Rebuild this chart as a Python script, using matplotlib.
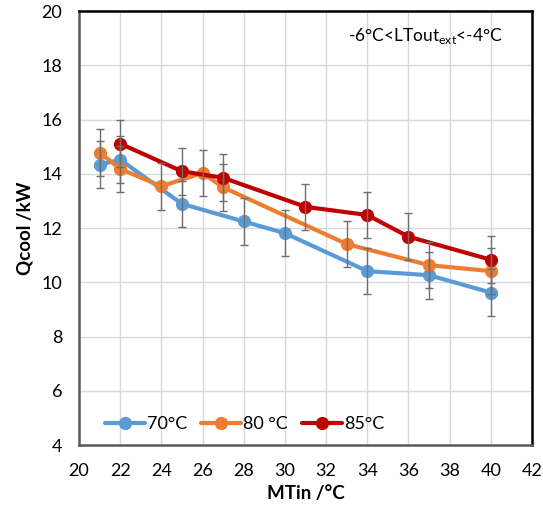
import matplotlib
matplotlib.use("Agg")
import matplotlib.pyplot as plt

plt.rcParams['font.family'] = ['Lato', 'DejaVu Sans']
plt.rcParams['mathtext.fontset'] = 'custom'
plt.rcParams['mathtext.rm'] = 'Lato'

x70 = [21, 22, 25, 28, 30, 34, 37, 40]
y70 = [14.33, 14.52, 12.89, 12.24, 11.81, 10.41, 10.26, 9.62]
e70 = [0.86, 0.86, 0.86, 0.86, 0.86, 0.86, 0.86, 0.86]

x80 = [21, 22, 24, 26, 27, 33, 37, 40]
y80 = [14.78, 14.18, 13.54, 14.03, 13.50, 11.41, 10.63, 10.41]
e80 = [0.86, 0.86, 0.86, 0.86, 0.86, 0.86, 0.86, 0.86]

x85 = [22, 25, 27, 31, 34, 36, 40]
y85 = [15.11, 14.09, 13.85, 12.78, 12.48, 11.68, 10.83]
e85 = [0.86, 0.86, 0.86, 0.86, 0.86, 0.86, 0.86]

series = [
    (x70, y70, e70, '#5B9BD5', '70°C'),
    (x80, y80, e80, '#ED7D31', '80 °C'),
    (x85, y85, e85, '#C00000', '85°C'),
]

fig = plt.figure(figsize=(5.43, 5.11), dpi=100)
ax = fig.add_axes([79/543, 1-445/511, (532-79)/543, (445-11)/511])

for xs, ys, es, c, lab in series:
    ax.plot(xs, ys, color=c, lw=3.0, marker='o', ms=8.5, label=lab, zorder=3,
            solid_capstyle='round')
    ax.errorbar(xs, ys, yerr=es, fmt='none', ecolor='#6E6E6E', elinewidth=1.0,
                capsize=3, capthick=1.0, zorder=4)

ax.set_xlim(20, 42)
ax.set_ylim(4, 20)
ax.set_xticks(range(20, 43, 2))
ax.set_yticks(range(4, 21, 2))
ax.grid(True, color='#D9D9D9', lw=1.0, zorder=0)
ax.set_axisbelow(True)
ax.tick_params(axis='x', length=0, labelsize=13, pad=13, colors='black')
ax.tick_params(axis='y', length=0, labelsize=13, pad=12, colors='black')

for s in ['top', 'right']:
    ax.spines[s].set_color('black')
    ax.spines[s].set_linewidth(1.8)
for s in ['left', 'bottom']:
    ax.spines[s].set_color('#595959')
    ax.spines[s].set_linewidth(1.8)

ax.set_xlabel('MTin /°C', fontsize=13.5, fontweight='bold', labelpad=4)
ax.set_ylabel('Qcool /kW', fontsize=13.5, fontweight='bold', labelpad=6)

ax.text(0.935, 0.965, r'-6°C<LTout$_{\mathregular{ext}}$<-4°C', transform=ax.transAxes,
        ha='right', va='top', fontsize=12.5)

leg = ax.legend(loc='lower left', bbox_to_anchor=(0.03, 0.0), ncol=3, frameon=False,
                fontsize=13, handlelength=2.2, handletextpad=0.1, columnspacing=0.8,
                borderaxespad=0.3)

fig.savefig('out.png', dpi=100)
